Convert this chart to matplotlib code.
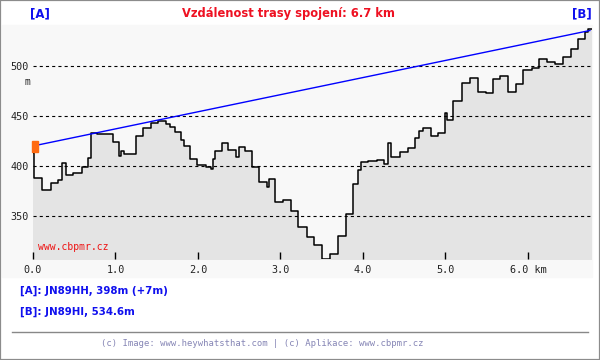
import matplotlib
matplotlib.use('Agg')
import matplotlib.pyplot as plt
from matplotlib.patches import Rectangle

# terrain profile (distance km, elevation m), step-wise
dist = [0.000, 0.012, 0.109, 0.218, 0.303, 0.352, 0.400, 0.485, 0.594, 0.667,
        0.703, 0.776, 0.970, 1.042, 1.067, 1.103, 1.248, 1.333, 1.430, 1.515,
        1.612, 1.661, 1.721, 1.794, 1.830, 1.903, 1.988, 2.097, 2.158, 2.182,
        2.206, 2.291, 2.364, 2.461, 2.497, 2.570, 2.655, 2.739, 2.836, 2.861,
        2.933, 3.030, 3.127, 3.212, 3.321, 3.406, 3.503, 3.600, 3.697, 3.794,
        3.879, 3.939, 3.976, 4.061, 4.170, 4.255, 4.303, 4.339, 4.448, 4.545,
        4.630, 4.679, 4.727, 4.824, 4.909, 4.994, 5.018, 5.091, 5.200, 5.297,
        5.394, 5.491, 5.576, 5.661, 5.758, 5.855, 5.939, 6.048, 6.133, 6.230,
        6.327, 6.424, 6.521, 6.606, 6.691, 6.727, 6.776]
elev = [413, 388, 376, 383, 386, 403, 391, 393, 399, 408,
        433, 432, 424, 410, 415, 412, 430, 438, 443, 445,
        442, 439, 434, 426, 420, 407, 401, 399, 397, 407,
        415, 423, 416, 409, 419, 415, 399, 384, 379, 387,
        364, 366, 355, 339, 329, 321, 307, 312, 330, 352,
        382, 396, 404, 405, 406, 402, 423, 409, 414, 418,
        428, 435, 438, 430, 433, 453, 446, 465, 483, 488,
        474, 473, 487, 490, 474, 482, 496, 498, 507, 504,
        502, 509, 517, 527, 534, 537, 537]

# line of sight A -> B
los_dist = [0.0, 6.75]
los_elev = [420, 535.5]

xticks = [0, 1, 2, 3, 4, 5, 6]
xtick_labels = ['0.0', '1.0', '2.0', '3.0', '4.0', '5.0', '6.0 km']
yticks = [350, 400, 450, 500]

W, H = 600, 360
fig = plt.figure(figsize=(6, 3.6), dpi=100)
fig.patch.set_facecolor('white')

# light panel behind the chart
fig.add_artist(Rectangle((2 / W, 1 - 277 / H), 590 / W, 252 / H,
                         transform=fig.transFigure, color='#f8f8f8', zorder=-5))

ax = fig.add_axes([33 / W, 101 / H, 559 / W, 234 / H])
ax.set_zorder(1)
ax.set_facecolor('#f8f8f8')
ax.set_xlim(0, 6.776)
ax.set_ylim(307, 541)

ax.fill_between(dist, elev, 300, step='post', color='#e4e4e4', lw=0, zorder=1)
ax.step(dist, elev, where='post', color='black', lw=1.1, zorder=3)

for y in yticks:
    ax.axhline(y, color='black', lw=0.8, linestyle=(0, (2.8, 2.8)), zorder=2)

ax.plot(los_dist, los_elev, color='#0000ff', lw=1.0, zorder=4)
ax.add_patch(Rectangle((los_dist[0] - 0.012, los_elev[0] - 5.5), 0.072, 11,
                       color='#ff6a10', zorder=5, clip_on=False))

for s in ax.spines.values():
    s.set_visible(False)

mono = 'DejaVu Sans Mono'
ax.set_xticks(xticks)
ax.set_xticklabels(xtick_labels, family=mono, fontsize=7.3, color='#222222')
ax.set_yticks(yticks)
ax.set_yticklabels([str(v) for v in yticks], family=mono, fontsize=7.3, color='#222222')
ax.tick_params(axis='x', direction='in', length=5, width=1, color='black', pad=4)
ax.tick_params(axis='y', length=0, pad=3)

fig.text(27 / W, 1 - 82 / H, 'm', family=mono, fontsize=7, ha='center', va='center', color='#222222')
fig.text(38 / W, 1 - 247 / H, 'www.cbpmr.cz', family=mono, fontsize=7, color='#ee1111',
         ha='left', va='center', zorder=5)

# header
fig.text(288 / W, 1 - 14 / H, 'Vzdálenost trasy spojení: 6.7 km', color='#ee1122',
         fontsize=8.3, fontweight='bold', ha='center', va='center')
fig.text(40 / W, 1 - 14 / H, '[A]', color='#1010ee', fontsize=8.5, fontweight='bold',
         ha='center', va='center')
fig.text(582 / W, 1 - 14 / H, '[B]', color='#1010ee', fontsize=8.5, fontweight='bold',
         ha='center', va='center')

# footer
fig.text(20 / W, 1 - 291 / H, '[A]: JN89HH, 398m (+7m)', color='#1010ee', fontsize=7.4,
         fontweight='bold', ha='left', va='center')
fig.text(20 / W, 1 - 312 / H, '[B]: JN89HI, 534.6m', color='#1010ee', fontsize=7.4,
         fontweight='bold', ha='left', va='center')
fig.add_artist(plt.Line2D([12 / W, 588 / W], [1 - 332 / H, 1 - 332 / H],
                          transform=fig.transFigure, color='#888888', lw=1))
fig.text(262 / W, 1 - 344 / H,
         '(c) Image: www.heywhatsthat.com | (c) Aplikace: www.cbpmr.cz',
         family=mono, fontsize=6.4, color='#8585b5', ha='center', va='center')

# outer border
fig.add_artist(Rectangle((0, 0), 1, 1, transform=fig.transFigure, fill=False,
                         edgecolor='#8c8c8c', lw=1.6, zorder=10))

fig.savefig('out.png', dpi=100)
